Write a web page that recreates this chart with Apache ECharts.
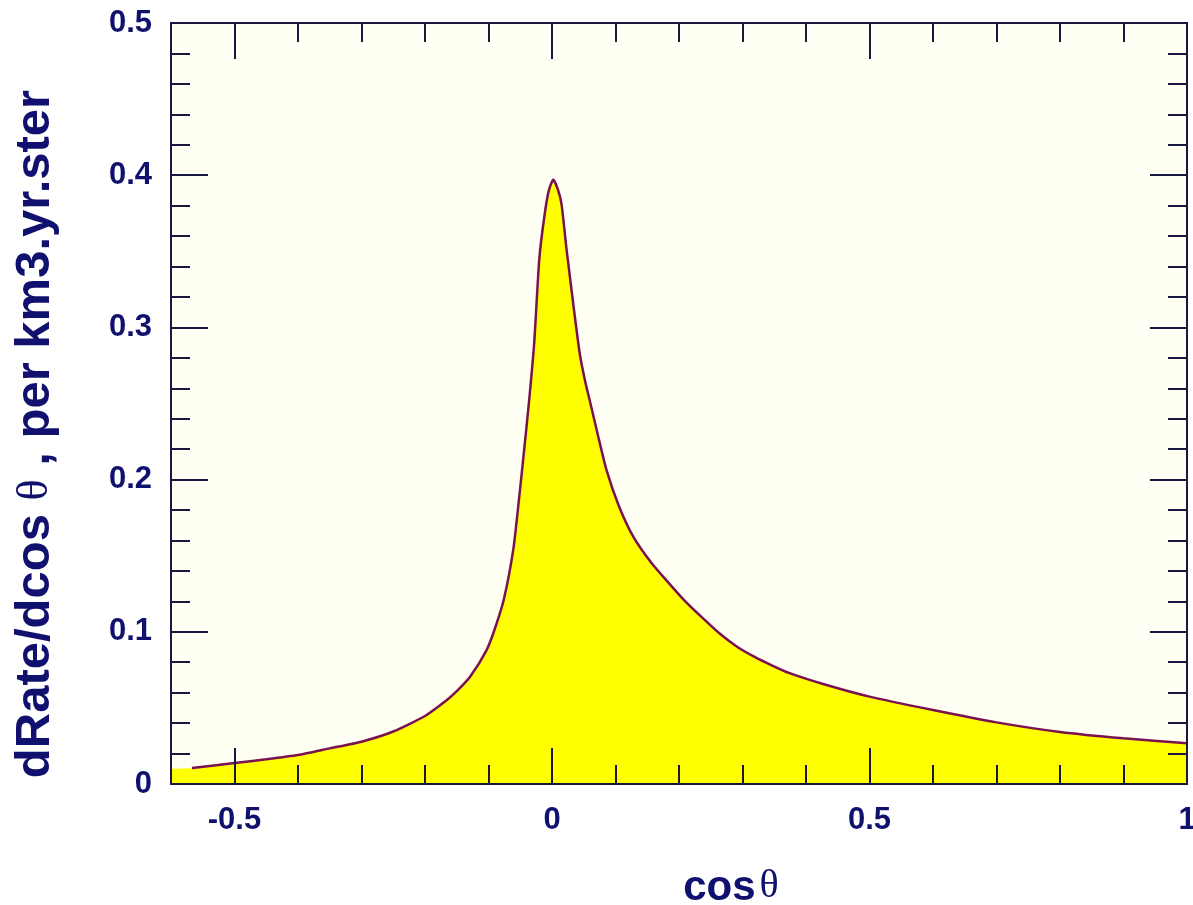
<!DOCTYPE html>
<html>
<head>
<meta charset="utf-8">
<script src="https://cdn.jsdelivr.net/npm/echarts@6/dist/echarts.min.js"></script>
<style>
html,body{margin:0;padding:0;background:#ffffff;}
#chart{width:1193px;height:905px;}
</style>
</head>
<body>
<div id="chart"></div>
<script>
// ---- data ----
const cosTheta = [-0.567, -0.5, -0.45, -0.4, -0.35, -0.3, -0.25, -0.2, -0.166, -0.15, -0.129, -0.103, -0.09, -0.076, -0.061, -0.052, -0.044, -0.036, -0.028, -0.02, -0.012, -0.005, 0.002, 0.009, 0.015, 0.023, 0.036, 0.044, 0.052, 0.06, 0.073, 0.086, 0.105, 0.128, 0.157, 0.185, 0.211, 0.24, 0.265, 0.292, 0.319, 0.346, 0.373, 0.427, 0.5, 0.6, 0.7, 0.8, 0.9, 1.0];
const rate     = [0.0105, 0.0138, 0.0162, 0.019, 0.0234, 0.0278, 0.0345, 0.0447, 0.055, 0.061, 0.0705, 0.088, 0.102, 0.121, 0.154, 0.187, 0.219, 0.252, 0.29, 0.345, 0.373, 0.390, 0.397, 0.391, 0.381, 0.351, 0.307, 0.282, 0.265, 0.251, 0.228, 0.206, 0.183, 0.1625, 0.145, 0.1315, 0.1195, 0.108, 0.0985, 0.090, 0.0835, 0.078, 0.073, 0.0657, 0.0574, 0.0486, 0.0405, 0.0342, 0.030, 0.0268];
// the yellow fill starts at the left frame edge, slightly before the line
const fillStartCos = [-0.6];
const fillStartRate = [0.0099];
const xMajorTicks = [-0.5, 0, 0.5, 1];
const yTickLabels = [0, 0.1, 0.2, 0.3, 0.4, 0.5];

const lineData = cosTheta.map((c, i) => [c, rate[i]]);
const fillData = fillStartCos.map((c, i) => [c, fillStartRate[i]]).concat(lineData);

const navy = '#10106e';
const axisCol = '#181840';
const chart = echarts.init(document.getElementById('chart'));

const gridRect = {left: 171, top: 23, right: 6, bottom: 121, outerBoundsMode: 'none', containLabel: false};

function xAx(grid, pos, major, labels) {
  return {
    type: 'value', gridIndex: grid, position: pos, min: -0.6, max: 1, interval: 0.1, z: 10,
    splitLine: {show: false},
    axisLine: {show: !major, onZero: false, lineStyle: {color: axisCol, width: 2}},
    axisTick: major
      ? {show: true, inside: true, length: 36, customValues: xMajorTicks, lineStyle: {color: axisCol, width: 2}}
      : {show: true, inside: true, length: 19, lineStyle: {color: axisCol, width: 2}},
    axisLabel: labels ? {
      margin: 21, color: navy, fontSize: 31, fontWeight: 'bold', fontFamily: 'Liberation Sans',
      showMinLabel: true, showMaxLabel: true,
      formatter: function (v) {
        const r = Math.round(v * 2);
        return Math.abs(v * 2 - r) < 1e-6 ? String(r / 2) : '';
      }
    } : {show: false}
  };
}
function yAx(grid, pos, show, labels) {
  return {
    type: 'value', gridIndex: grid, position: pos, min: 0, max: 0.5, interval: 0.1, z: 10,
    splitLine: {show: false},
    axisLine: {show: show, onZero: false, lineStyle: {color: axisCol, width: 2}},
    axisTick: {show: show, inside: true, length: 37, lineStyle: {color: axisCol, width: 2}},
    minorTick: {show: show, splitNumber: 5, length: 19, lineStyle: {color: axisCol, width: 2}},
    axisLabel: labels ? {
      margin: 19, color: navy, fontSize: 31, fontWeight: 'bold', fontFamily: 'Liberation Sans',
      customValues: yTickLabels
    } : {show: false}
  };
}

chart.setOption({
  backgroundColor: '#ffffff',
  animation: false,
  grid: [
    Object.assign({show: true, backgroundColor: '#fffff3', borderWidth: 0}, gridRect),
    Object.assign({show: false}, gridRect)
  ],
  xAxis: [
    xAx(0, 'bottom', false, true),
    xAx(0, 'top', false, false),
    xAx(1, 'bottom', true, false),
    xAx(1, 'top', true, false)
  ],
  yAxis: [
    yAx(0, 'left', true, true),
    yAx(0, 'right', true, false),
    yAx(1, 'left', false, false)
  ],
  graphic: [
    {
      type: 'text', x: 731, y: 888, z: 100,
      style: {
        text: '{b|cos}{t|θ}', align: 'center', verticalAlign: 'middle',
        rich: {
          b: {fontSize: 42, fontWeight: 'bold', fontFamily: 'Liberation Sans', fill: navy, color: navy},
          t: {fontSize: 40, fontFamily: 'Liberation Serif', fill: navy, color: navy, padding: [0, 0, 4, 4]}
        }
      }
    },
    {
      type: 'text', x: 35, y: 434, rotation: Math.PI / 2, z: 100,
      style: {
        text: '{b|dRate/dcos }{t|θ}{b| , per km3.yr.ster}', align: 'center', verticalAlign: 'middle',
        rich: {
          b: {fontSize: 49, fontWeight: 'bold', fontFamily: 'Liberation Sans', fill: navy, color: navy},
          t: {fontSize: 44, fontFamily: 'Liberation Serif', fill: navy, color: navy}
        }
      }
    }
  ],
  series: [
    {
      type: 'line', xAxisIndex: 0, yAxisIndex: 0, data: fillData,
      showSymbol: false, smooth: 0.2,
      lineStyle: {width: 0, opacity: 0},
      areaStyle: {color: '#ffff00', opacity: 1},
      z: 2
    },
    {
      type: 'line', xAxisIndex: 0, yAxisIndex: 0, data: lineData,
      showSymbol: false, smooth: 0.2,
      lineStyle: {width: 2.5, color: '#7a1250'},
      z: 3
    }
  ]
});
</script>
</body>
</html>
